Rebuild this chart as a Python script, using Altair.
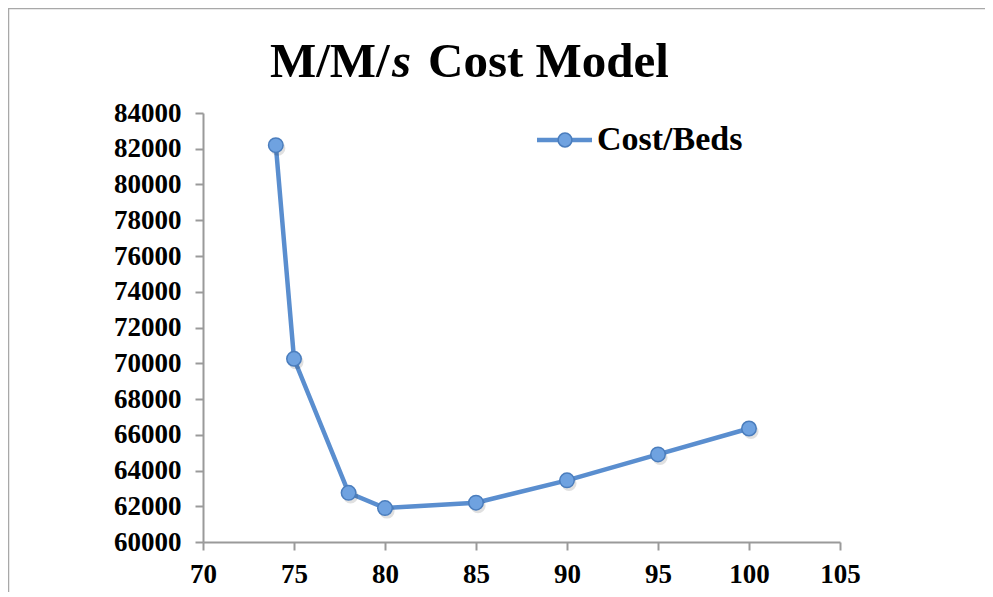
import altair as alt
import pandas as pd

# Data
beds = [74, 75, 78, 80, 85, 90, 95, 100]
cost = [82200, 70250, 62750, 61900, 62200, 63450, 64900, 66350]
x_ticks = [70, 75, 80, 85, 90, 95, 100, 105]
y_ticks = list(range(60000, 84001, 2000))
series_name = "Cost/Beds"

df = pd.DataFrame({"beds": beds, "cost": cost})
one = pd.DataFrame({"a": [0]})

FONT = "Liberation Serif"
LINE = "#5A8ECF"
MFILL = "#6FA2E0"
MSTROKE = "#4A7DBD"
AXIS = "#9A9A9A"

W, H = 637, 429

xenc = alt.X(
    "beds:Q",
    scale=alt.Scale(domain=[70, 105], nice=False, zero=False),
    axis=alt.Axis(values=x_ticks, title=None, grid=False, format="d",
                  labelPadding=11, tickSize=8, labelFlush=False, labelOverlap=False),
)
yenc = alt.Y(
    "cost:Q",
    scale=alt.Scale(domain=[60000, 84000], nice=False, zero=False),
    axis=alt.Axis(values=y_ticks, title=None, grid=False, format="d",
                  labelPadding=14, tickSize=8, labelFlush=False, labelOverlap=False),
)

line = alt.Chart(df).mark_line(color=LINE, strokeWidth=4.5).encode(x=xenc, y=yenc)
shadow = alt.Chart(df).mark_point(filled=True, size=230, color="#000000", opacity=0.12).encode(
    x=xenc, y=yenc, xOffset=alt.value(2), yOffset=alt.value(3))
pts = alt.Chart(df).mark_point(filled=True, size=210, fill=MFILL, stroke=MSTROKE,
                               strokeWidth=1.5, opacity=1).encode(x=xenc, y=yenc)

# Title pieces (italic s)
t1 = alt.Chart(one).mark_text(text="M/M/", font=FONT, fontSize=49, fontWeight="bold",
                              align="left", baseline="alphabetic", color="black").encode(
    x=alt.value(67), y=alt.value(-36))
t2 = alt.Chart(one).mark_text(text="s", font=FONT, fontSize=49, fontWeight="bold",
                              fontStyle="italic", align="left", baseline="alphabetic",
                              color="black").encode(x=alt.value(189), y=alt.value(-36))
t3 = alt.Chart(one).mark_text(text="Cost Model", font=FONT, fontSize=49, fontWeight="bold",
                              align="left", baseline="alphabetic", color="black").encode(
    x=alt.value(225), y=alt.value(-36))

# Legend
lg_line = alt.Chart(one).mark_rule(color=LINE, strokeWidth=4.5).encode(
    x=alt.value(334), x2=alt.value(389), y=alt.value(27))
lg_pt = alt.Chart(one).mark_point(filled=True, size=190, fill=MFILL, stroke=MSTROKE,
                                  strokeWidth=1.5, opacity=1).encode(
    x=alt.value(362), y=alt.value(27))
lg_txt = alt.Chart(one).mark_text(text=series_name, font=FONT, fontSize=34, fontWeight="bold",
                                  align="left", baseline="middle", color="black").encode(
    x=alt.value(394), y=alt.value(27))

# Outer frame (left and top edges)
fr_left = alt.Chart(one).mark_rule(color="#A8A8A8", strokeWidth=2.5).encode(
    x=alt.value(-195), y=alt.value(-105), y2=alt.value(H + 60))
fr_top = alt.Chart(one).mark_rule(color="#A8A8A8", strokeWidth=2.5).encode(
    x=alt.value(-195), x2=alt.value(W + 160), y=alt.value(-105))

chart = alt.layer(
    line, shadow, pts, fr_left, fr_top, t1, t2, t3, lg_line, lg_pt, lg_txt
).properties(
    width=W, height=H,
    autosize=alt.AutoSizeParams(type="none"),
    padding={"left": 195, "top": 105, "right": 145, "bottom": 50},
).configure_view(stroke=None).configure_axis(
    labelFont=FONT, labelFontSize=27, labelFontWeight="bold", labelColor="black",
    domainColor=AXIS, tickColor=AXIS, domainWidth=2, tickWidth=2, labelOverlap=False,
)

chart.save("out.html", embed_options={"renderer": "svg", "actions": False})
